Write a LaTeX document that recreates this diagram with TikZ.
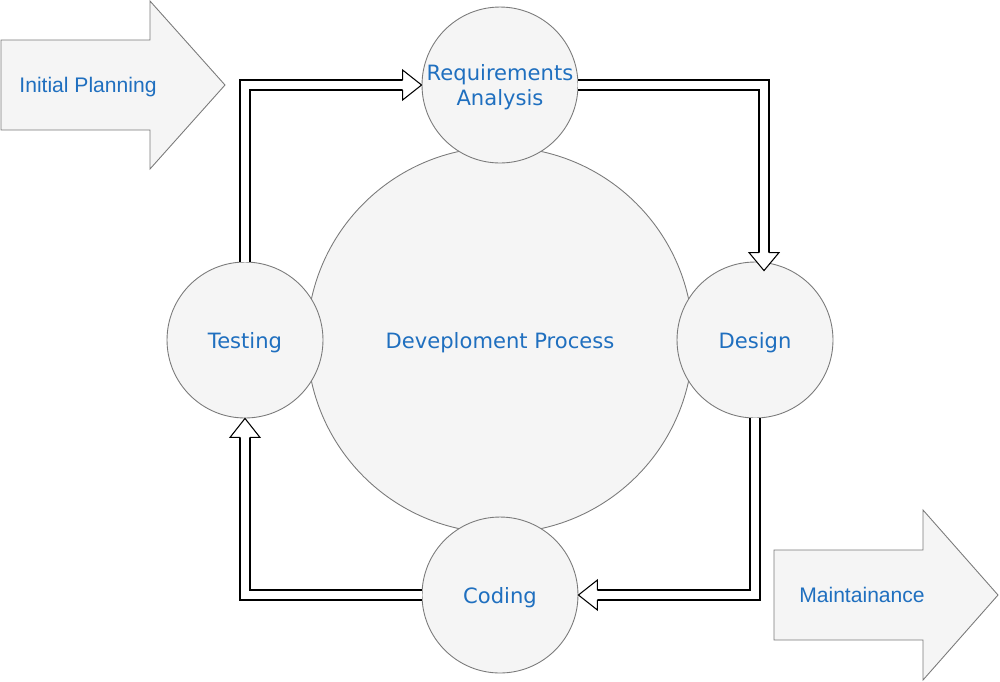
\documentclass[tikz,border=0pt]{standalone}
\usepackage{fontspec}
\newfontfamily\circfont{DejaVu Sans}
\newfontfamily\arrfont{Liberation Sans}
\usepackage{tikz}
\usetikzlibrary{calc}
\definecolor{txtblue}{HTML}{1F6FBF}
\definecolor{shapefill}{HTML}{F5F5F5}
\definecolor{shapeline}{HTML}{7A7A7A}
\begin{document}
\begin{tikzpicture}[x=0.02cm, y=-0.02cm, every node/.style={text=txtblue}, phase/.style={circle, draw=shapeline, fill=shapefill, line width=0.5pt, inner sep=0pt, minimum size=3.12cm, text depth=0pt, align=center, font=\circfont\fontsize{12}{14.5}\selectfont}, core/.style={phase, minimum size=7.72cm}, bigarrow/.style={draw=shapeline, fill=shapefill, line width=0.5pt}, lbl/.style={text depth=0pt, font=\arrfont\fontsize{12}{14.5}\selectfont}, shaft/.style={draw=black, double=white, double distance=5.1pt, line width=0.6pt}, head/.style={draw=black, fill=white, line width=0.6pt}]
\useasboundingbox (0,0) rectangle (1000,681);
\draw[bigarrow] (1,40) -- (150,40) -- (150,1) -- (225,85) -- (150,169) -- (150,130) -- (1,130) -- cycle;
\node[lbl] (plan) at (88,85) {Initial Planning};
\draw[bigarrow] (774,550) -- (923,550) -- (923,510) -- (998,595) -- (923,680) -- (923,640) -- (774,640) -- cycle;
\node[lbl] (maint) at (862,595) {Maintainance};
\node[core] (dev) at (500,340) {Deveploment Process};
\node[phase] (req) at (500,85) {Requirements\\Analysis};
\node[phase] (dsg) at (755,340) {Design};
\node[phase] (cod) at (500,595) {Coding};
\node[phase] (tst) at (245,340) {Testing};
\coordinate (reqin) at ($(req.west)+(-19,0)$);
\coordinate (dsgtip) at ($(dsg.north)+(9,9)$);
\coordinate (dsgin) at ($(dsgtip)+(0,-18)$);
\coordinate (codin) at ($(cod.east)+(19,0)$);
\coordinate (tstin) at ($(tst.south)+(0,19)$);
\draw[shaft] (tst.north) |- (reqin);
\draw[head] ($(reqin)+(0,-5)$) -- ++(0,-10) -- (req.west) -- ($(reqin)+(0,15)$) -- ++(0,-10);
\draw[shaft] (req.east) -| (dsgin);
\draw[head] ($(dsgin)+(-5,0)$) -- ++(-10,0) -- (dsgtip) -- ($(dsgin)+(15,0)$) -- ++(-10,0);
\draw[shaft] (dsg.south) |- (codin);
\draw[head] ($(codin)+(0,-5)$) -- ++(0,-10) -- (cod.east) -- ($(codin)+(0,15)$) -- ++(0,-10);
\draw[shaft] (cod.west) -| (tstin);
\draw[head] ($(tstin)+(-5,0)$) -- ++(-10,0) -- (tst.south) -- ($(tstin)+(15,0)$) -- ++(-10,0);
\end{tikzpicture}
\end{document}
